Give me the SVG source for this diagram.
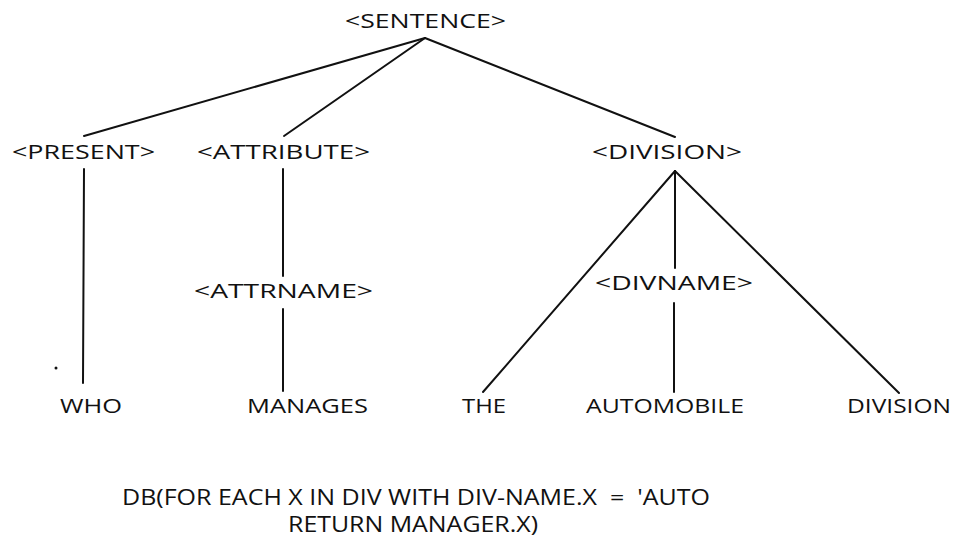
<svg xmlns="http://www.w3.org/2000/svg" width="954" height="539" viewBox="0 0 954 539">
<style>
text{font-family:"Open Sans","Liberation Sans",sans-serif;font-size:20px;fill:#111}
.q{font-size:21px}
.e line{stroke:#111;stroke-width:2;stroke-linecap:round}
</style>
<rect width="954" height="539" fill="#fff"/>
<g class="e" id="connectors">
<line x1="425" y1="38" x2="84" y2="136"/>
<line x1="425" y1="38" x2="284" y2="136"/>
<line x1="425" y1="38" x2="675" y2="137"/>
<line x1="84" y1="169" x2="83" y2="383"/>
<line x1="283" y1="169" x2="283" y2="276"/>
<line x1="283" y1="309" x2="283" y2="391"/>
<line x1="675" y1="171" x2="483" y2="392"/>
<line x1="675" y1="171" x2="675" y2="268"/>
<line x1="675" y1="171" x2="899" y2="393"/>
<line x1="674" y1="303" x2="674" y2="392"/>
</g>
<g id="n-sentence"><text x="345" y="28" textLength="161" lengthAdjust="spacingAndGlyphs">&lt;SENTENCE&gt;</text></g>
<g id="n-present"><text x="12" y="159" textLength="143" lengthAdjust="spacingAndGlyphs">&lt;PRESENT&gt;</text></g>
<g id="n-attribute"><text x="197" y="159" textLength="173" lengthAdjust="spacingAndGlyphs">&lt;ATTRIBUTE&gt;</text></g>
<g id="n-division"><text x="592" y="159" textLength="150" lengthAdjust="spacingAndGlyphs">&lt;DIVISION&gt;</text></g>
<g id="n-attrname"><text x="194" y="298" textLength="179" lengthAdjust="spacingAndGlyphs">&lt;ATTRNAME&gt;</text></g>
<g id="n-divname"><text x="595" y="290" textLength="158" lengthAdjust="spacingAndGlyphs">&lt;DIVNAME&gt;</text></g>
<g id="n-who"><text x="60" y="413" textLength="62" lengthAdjust="spacingAndGlyphs">WHO</text></g>
<g id="n-manages"><text x="247" y="413" textLength="121" lengthAdjust="spacingAndGlyphs">MANAGES</text></g>
<g id="n-the"><text x="462" y="413" textLength="44" lengthAdjust="spacingAndGlyphs">THE</text></g>
<g id="n-automobile"><text x="586" y="413" textLength="158" lengthAdjust="spacingAndGlyphs">AUTOMOBILE</text></g>
<g id="n-division-word"><text x="847" y="413" textLength="104" lengthAdjust="spacingAndGlyphs">DIVISION</text></g>
<circle cx="56" cy="368" r="1.5" fill="#111"/>
<g id="query">
<text class="q" x="122" y="505" textLength="588" lengthAdjust="spacingAndGlyphs" xml:space="preserve">DB(FOR EACH X IN DIV WITH DIV-NAME.X  =  'AUTO</text>
<text class="q" x="288" y="532" textLength="250" lengthAdjust="spacingAndGlyphs">RETURN MANAGER.X)</text>
</g>
</svg>
